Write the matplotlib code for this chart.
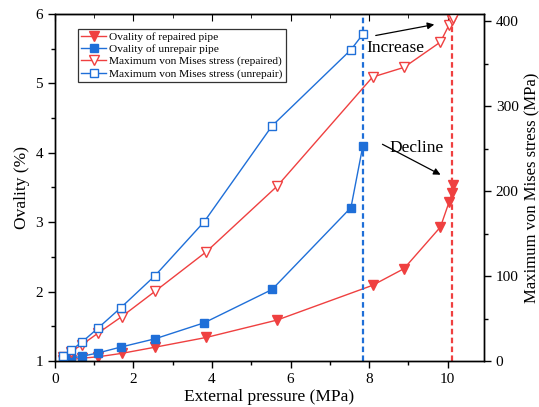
import numpy as np
import matplotlib
matplotlib.use('Agg')
from matplotlib import pyplot as plt
from matplotlib.ticker import MultipleLocator

plt.rcParams['font.family'] = ['Liberation Serif', 'DejaVu Serif']
plt.rcParams['mathtext.fontset'] = 'stix'

# ovality data (left axis)
p_rep = [0.2, 0.4, 0.68, 1.09, 1.70, 2.56, 3.86, 5.66, 8.09, 8.89, 9.82, 10.04, 10.12, 10.13]
ov_rep = [1.01, 1.02, 1.04, 1.06, 1.11, 1.20, 1.34, 1.59, 2.09, 2.33, 2.93, 3.29, 3.42, 3.53]
p_unr = [0.2, 0.41, 0.70, 1.09, 1.67, 2.55, 3.80, 5.53, 7.54, 7.84]
ov_unr = [1.01, 1.04, 1.07, 1.115, 1.20, 1.32, 1.55, 2.03, 3.21, 4.09]

# max von Mises stress (right axis)
s_rep = [5, 11, 19, 32.6, 52.3, 82.5, 128.9, 206, 334.5, 345.9, 375.8, 396, 402, 404]
s_unr = [6.3, 12.6, 22.8, 38.5, 62.5, 100.6, 164, 277, 366.7, 384.8]

collapse_unr = 7.84
collapse_rep = 10.11

red = '#ef4040'
blue = '#1f6fd8'

fig = plt.figure(figsize=(5.39, 4.07), dpi=100)
ax = fig.add_axes([0.102, 0.113, 0.796, 0.853])
ax2 = ax.twinx()

l1, = ax.plot(p_rep, ov_rep, '-v', color=red, lw=1, ms=6.5, label='Ovality of repaired pipe')
l2, = ax.plot(p_unr, ov_unr, '-s', color=blue, lw=1, ms=5.8, label='Ovality of unrepair pipe')
l3, = ax2.plot(p_rep, s_rep, '-v', color=red, lw=1, ms=6.5, mfc='white',
               label='Maximum von Mises stress (repaired)')
l4, = ax2.plot(p_unr, s_unr, '-s', color=blue, lw=1, ms=5.5, mfc='white',
               label='Maximum von Mises stress (unrepair)')

ax.axvline(collapse_unr, color=blue, ls=(0, (2.5, 1.5)), lw=1.6)
ax.axvline(collapse_rep, color=red, ls=(0, (2.5, 1.5)), lw=1.6)

ax.set_xlim(0, 10.93)
ax.set_ylim(1, 6)
ax2.set_ylim(0, 409)
ax.xaxis.set_major_locator(MultipleLocator(2))
ax.xaxis.set_minor_locator(MultipleLocator(1))
ax.yaxis.set_major_locator(MultipleLocator(1))
ax.yaxis.set_minor_locator(MultipleLocator(0.5))
ax2.yaxis.set_major_locator(MultipleLocator(100))
ax2.yaxis.set_minor_locator(MultipleLocator(50))

for a in (ax, ax2):
    a.tick_params(which='major', direction='out', length=5, width=1, labelsize=11)
    a.tick_params(which='minor', direction='out', length=3, width=1)
    for s in a.spines.values():
        s.set_linewidth(1)
ax.tick_params(top=False)

top = ax.secondary_xaxis('top')
top.xaxis.set_major_locator(MultipleLocator(2))
top.xaxis.set_minor_locator(MultipleLocator(1))
top.tick_params(which='major', direction='in', length=5, labeltop=False)
top.tick_params(which='minor', direction='in', length=3)

ax.set_xlabel('External pressure (MPa)', fontsize=12.5, labelpad=2)
ax.set_ylabel('Ovality (%)', fontsize=12.5, labelpad=4)
ax2.set_ylabel('Maximum von Mises stress (MPa)', fontsize=12, labelpad=4)

leg = ax.legend(handles=[l1, l2, l3, l4], loc='upper left', bbox_to_anchor=(0.054, 0.957),
                fontsize=8.2, frameon=True, fancybox=False, edgecolor='black',
                borderpad=0.25, labelspacing=0.2, handlelength=2.2, handletextpad=0.3,
                borderaxespad=0)
leg.get_frame().set_linewidth(0.9)

ax2.annotate('', xy=(437, 407 - 24), xytext=(373, 407 - 36), xycoords='figure pixels',
             textcoords='figure pixels', arrowprops=dict(arrowstyle='-|>', color='black', lw=0.9))
fig.text(366 / 539, 1 - 48 / 407, 'Increase', fontsize=12.5, va='center', ha='left')
ax2.annotate('', xy=(443, 407 - 176), xytext=(380, 407 - 143), xycoords='figure pixels',
             textcoords='figure pixels', arrowprops=dict(arrowstyle='-|>', color='black', lw=0.9))
fig.text(389 / 539, 1 - 148 / 407, 'Decline', fontsize=12.5, va='center', ha='left')

plt.savefig('out.png', dpi=100)
